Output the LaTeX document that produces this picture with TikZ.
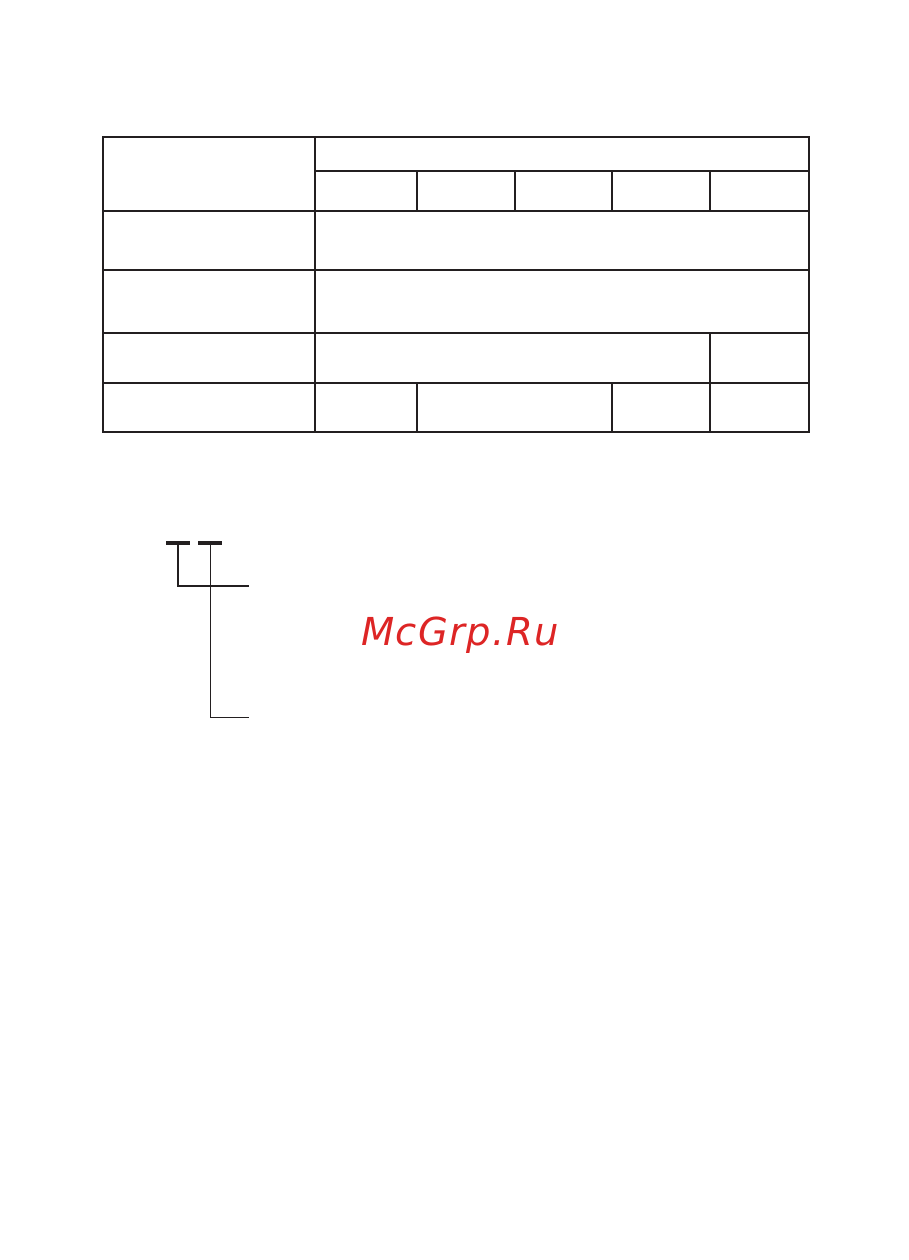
\documentclass[tikz,border=0pt]{standalone}
\usepackage{xcolor}
\usepackage{fontspec}
\newfontfamily\markfont[LetterSpace=3.4]{DejaVu Sans}
\definecolor{rulecolor}{HTML}{231F20}
\definecolor{markred}{HTML}{DD2525}
\usepackage{tikz}

\begin{document}
\begin{tikzpicture}[x=1pt, y=-1pt, line cap=butt,
    tablerule/.style={draw=rulecolor, line width=2.3pt},
    barrule/.style={draw=rulecolor, line width=3.4pt},
    leaderthick/.style={draw=rulecolor, line width=2.3pt},
    leaderthin/.style={draw=rulecolor, line width=1.4pt}]
   \useasboundingbox (0,0) rectangle (908,1260);
   % Table outline
   \draw[tablerule] (103,137) rectangle (809,432);
   % Rows
   \draw[tablerule] (315,171) -- (809,171);
   \foreach \y in {211,270,333,383}
      \draw[tablerule] (103,\y) -- (809,\y);
   % Columns
   \draw[tablerule] (315,137) -- (315,432);
   \foreach \x in {417,515,612,710}
      \draw[tablerule] (\x,171) -- (\x,211);
   \draw[tablerule] (710,333) -- (710,432);
   \draw[tablerule] (417,383) -- (417,432);
   \draw[tablerule] (612,383) -- (612,432);
   % Leader lines
   \coordinate (barA) at (178,543);
   \coordinate (barB) at (210.6,543);
   \coordinate (endA) at (249,585.7);
   \coordinate (endB) at (249,717.3);
   \draw[barrule] (166,543) -- (190,543);
   \draw[barrule] (198,543) -- (222,543);
   \draw[leaderthick] (barA) |- (endA);
   \draw[leaderthin] (barB) |- (endB);
   % Watermark
   \node[anchor=base, inner sep=0pt, text=markred, font=\markfont\itshape\fontsize{38.5}{40}\selectfont]
      (mark) at (460,645) {McGrp.Ru};
\end{tikzpicture}
\end{document}
